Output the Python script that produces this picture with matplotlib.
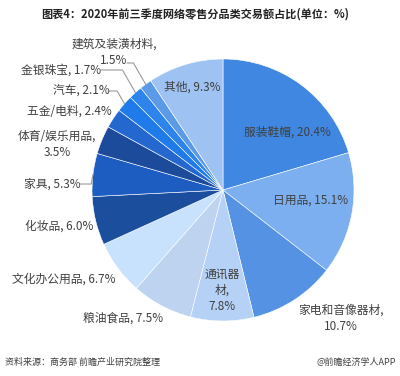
import matplotlib.pyplot as plt
import numpy as np

plt.rcParams['font.family'] = ['Noto Sans CJK SC', 'DejaVu Sans']

# data, clockwise from 12 o'clock
categories = ['服装鞋帽', '日用品', '家电和音像器材', '通讯器材', '粮油食品', '文化办公用品',
              '化妆品', '家具', '体育/娱乐用品', '五金/电料', '汽车', '金银珠宝',
              '建筑及装潢材料', '其他']
shares = [20.4, 15.1, 10.7, 7.8, 7.5, 6.7, 6.0, 5.3, 3.5, 2.4, 2.1, 1.7, 1.5, 9.3]

colors = ['#3f87e0', '#7bafef', '#5592e4', '#b5d2f6', '#bdd3f0', '#c8e1fd',
          '#1b4e9c', '#1d5dc2', '#1c4b9b', '#2468cf', '#1f7be9', '#2d84ec',
          '#5b9ae6', '#9ec3f2']

# how each label is broken into lines
label_fmt = {'家电和音像器材': '{c},\n{v}%', '通讯器材': '通讯器\n材,\n{v}%',
             '体育/娱乐用品': '{c},\n{v}%', '建筑及装潢材料': '{c},\n{v}%'}

# label centres in image pixels (x, y from top)
label_pos = {'服装鞋帽': (287, 132), '日用品': (311, 200), '家电和音像器材': (341, 318),
             '通讯器材': (222, 290), '粮油食品': (123, 318), '文化办公用品': (64, 279),
             '化妆品': (59, 226), '家具': (52, 184), '体育/娱乐用品': (57, 144),
             '五金/电料': (69, 111), '汽车': (81, 91), '金银珠宝': (61, 70),
             '建筑及装潢材料': (114, 52), '其他': (192, 87)}

# leader lines: start point in image pixels, angle of the last segment
leaders = {'家具': ((80, 184), 80), '汽车': ((108, 91), 120),
           '金银珠宝': ((101, 70), 120), '建筑及装潢材料': ((127, 63), 120)}

W, H = 400, 376
fig = plt.figure(figsize=(W / 100, H / 100), dpi=100)
cx, cy, r = 223, 190, 131
ax = fig.add_axes([(cx - r) / W, (H - cy - r) / H, 2 * r / W, 2 * r / H])
wedges, _ = ax.pie(shares, colors=colors, startangle=90, counterclock=False,
                   wedgeprops=dict(edgecolor='white', linewidth=0.4))
ax.set_xlim(-1, 1)
ax.set_ylim(-1, 1)
ax.axis('off')

txt_color = '#404040'
for w, c, v in zip(wedges, categories, shares):
    s = label_fmt.get(c, '{c}, {v}%').format(c=c, v=v)
    px, py = label_pos[c]
    fig.text(px / W, 1 - py / H, s, ha='center', va='center', fontsize=8.5,
             color=txt_color, linespacing=1.3)
    if c in leaders:
        (sx, sy), angB = leaders[c]
        mid = np.deg2rad((w.theta1 + w.theta2) / 2)
        ax.annotate('', xy=(np.cos(mid), np.sin(mid)), xycoords='data',
                    xytext=(sx, H - sy), textcoords='figure pixels',
                    arrowprops=dict(arrowstyle='-', color='#9a9a9a', lw=0.8,
                                    shrinkA=0, shrinkB=0,
                                    connectionstyle=f'angle,angleA=0,angleB={angB}'))

fig.text(195 / W, 1 - 14 / H, '图表4：2020年前三季度网络零售分品类交易额占比(单位：%)',
         ha='center', va='center', fontsize=8, fontweight='bold', color='#222222')
fig.text(5 / W, 1 - 362 / H, '资料来源：商务部 前瞻产业研究院整理', ha='left', va='center',
         fontsize=6.5, color=txt_color)
fig.text(396 / W, 1 - 362 / H, '@前瞻经济学人APP', ha='right', va='center',
         fontsize=6.5, color=txt_color)

fig.savefig('out.png', dpi=100)
